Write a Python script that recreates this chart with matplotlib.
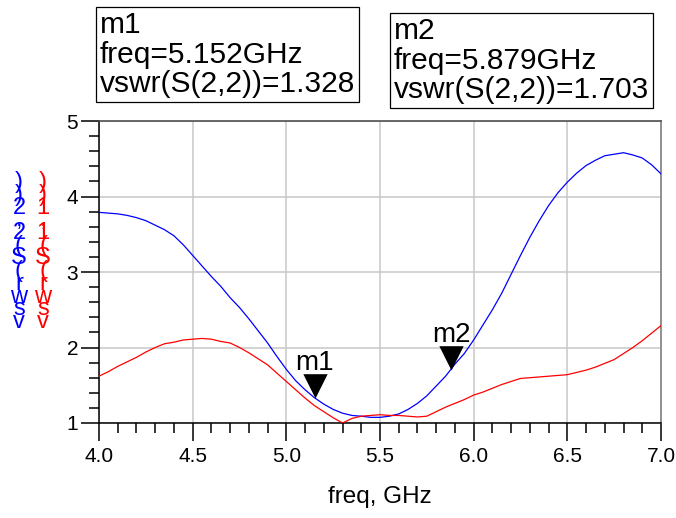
import matplotlib
matplotlib.use("Agg")
import matplotlib.pyplot as plt
import numpy as np

plt.rcParams['font.family'] = ['Liberation Sans', 'DejaVu Sans']

# freq (GHz) and vswr values
freq = [4.0, 4.05, 4.1, 4.15, 4.2, 4.25, 4.3, 4.35, 4.4, 4.45, 4.5, 4.55, 4.6, 4.65,
        4.7, 4.75, 4.8, 4.85, 4.9, 4.95, 5.0, 5.05, 5.1, 5.15, 5.2, 5.25, 5.3, 5.35,
        5.4, 5.45, 5.5, 5.55, 5.6, 5.65, 5.7, 5.75, 5.8, 5.85, 5.9, 5.95, 6.0, 6.05,
        6.1, 6.15, 6.2, 6.25, 6.3, 6.35, 6.4, 6.45, 6.5, 6.55, 6.6, 6.65, 6.7, 6.75,
        6.8, 6.85, 6.9, 6.95, 7.0]
vswr_s22 = [3.79, 3.78, 3.77, 3.75, 3.72, 3.68, 3.62, 3.56, 3.48, 3.36, 3.22, 3.08, 2.94, 2.81,
            2.66, 2.53, 2.38, 2.22, 2.06, 1.88, 1.71, 1.56, 1.44, 1.335, 1.25, 1.18, 1.13, 1.10,
            1.09, 1.075, 1.075, 1.09, 1.12, 1.18, 1.26, 1.36, 1.49, 1.62, 1.78, 1.92, 2.10, 2.30,
            2.50, 2.72, 2.97, 3.22, 3.46, 3.68, 3.88, 4.05, 4.19, 4.31, 4.41, 4.48, 4.54, 4.56,
            4.58, 4.55, 4.51, 4.42, 4.30]
vswr_s11 = [1.62, 1.68, 1.75, 1.81, 1.87, 1.94, 2.00, 2.05, 2.07, 2.10, 2.11, 2.12, 2.11, 2.08,
            2.06, 2.00, 1.93, 1.85, 1.77, 1.66, 1.55, 1.44, 1.33, 1.23, 1.15, 1.07, 1.00, 1.06,
            1.09, 1.10, 1.11, 1.10, 1.10, 1.09, 1.08, 1.09, 1.15, 1.21, 1.26, 1.31, 1.37, 1.41,
            1.46, 1.51, 1.55, 1.59, 1.60, 1.61, 1.62, 1.63, 1.64, 1.67, 1.70, 1.74, 1.79, 1.84,
            1.92, 2.00, 2.09, 2.19, 2.29]

marker_names = ['m1', 'm2']
marker_freq = [5.152, 5.879]
marker_vswr = [1.328, 1.703]

fig = plt.figure(figsize=(6.76, 5.18), dpi=100)
W, H = 676.0, 518.0
ax = fig.add_axes([99 / W, 1 - 423 / H, (661 - 99) / W, (423 - 121) / H])

ax.plot(freq, vswr_s22, color='#0000ff', lw=0.9, zorder=3)
ax.plot(freq, vswr_s11, color='#ff0000', lw=0.9, zorder=3)

# marker triangles, apex on the data point
tri = [(-0.5, 1), (0.5, 1), (0, 0)]
for name, mx, my in zip(marker_names, marker_freq, marker_vswr):
    ax.plot([mx], [my], marker=tri, markersize=35, color='black', mec='none',
            ls='none', zorder=4, clip_on=False)
    ax.annotate(name, xy=(mx, my), xytext=(0, 20), textcoords='offset points',
                ha='center', va='baseline', fontsize=20, zorder=5)

ax.set_xlim(4.0, 7.0)
ax.set_ylim(1, 5)
ax.set_xticks(np.arange(4.0, 7.01, 0.5))
ax.set_xticks(np.arange(4.0, 7.01, 0.1), minor=True)
ax.set_yticks([1, 2, 3, 4, 5])
ax.set_yticks(np.arange(1, 5.01, 0.2), minor=True)
ax.set_xticklabels(['%.1f' % v for v in np.arange(4.0, 7.01, 0.5)])
ax.tick_params(which='major', length=13, width=1.1, direction='out', labelsize=15)
ax.tick_params(which='minor', length=7, width=1.1, direction='out')
ax.tick_params(axis='x', pad=4)
ax.tick_params(axis='y', pad=2)
ax.grid(True, which='major', color='#c8c8c8', lw=1.1, zorder=0)
ax.set_axisbelow(True)

for s in ['left', 'bottom']:
    ax.spines[s].set_color('black')
    ax.spines[s].set_linewidth(1.1)
ax.spines['top'].set_color('#505050')
ax.spines['top'].set_linewidth(1.2)
ax.spines['right'].set_color('#909090')
ax.spines['right'].set_linewidth(1.4)

fig.text(380 / W, 1 - 497 / H, 'freq, GHz', ha='center', va='center', fontsize=17.5)

# stacked y labels, one character per step
ylab = [('vswr(S(2,2))', '#0000ff', 19), ('vswr(S(1,1))', '#ff0000', 43)]
for txt, col, xc in ylab:
    for i, ch in enumerate(txt):
        fig.text(xc / W, 1 - (328 - i * 12.7) / H, ch, color=col, fontsize=17,
                 ha='center', va='baseline')

# marker readout boxes
boxes = [('m1\nfreq=5.152GHz\nvswr(S(2,2))=1.328', 100, 11),
         ('m2\nfreq=5.879GHz\nvswr(S(2,2))=1.703', 394, 17)]
for txt, bx, by in boxes:
    fig.text(bx / W, 1 - by / H, txt, ha='left', va='top', fontsize=21.5,
             linespacing=1.07,
             bbox=dict(boxstyle='square,pad=0.12', fc='white', ec='black', lw=0.9))

fig.savefig('out.png', dpi=100)
